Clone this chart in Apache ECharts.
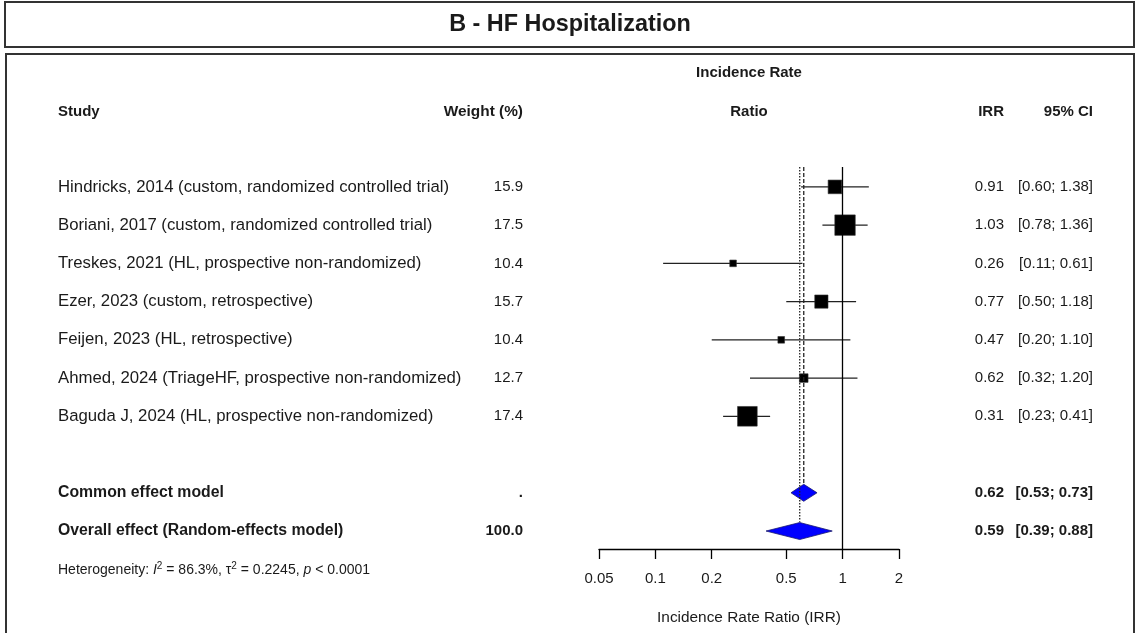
<!DOCTYPE html>
<html>
<head>
<meta charset="utf-8">
<title>B - HF Hospitalization</title>
<script src="https://cdn.jsdelivr.net/npm/echarts@6.0.0/dist/echarts.min.js"></script>
<style>
  html, body { margin: 0; padding: 0; background: #fff; }
  #main { width: 1137px; height: 633px; }
</style>
</head>
<body>
<div id="main"></div>
<script>
// study rows
const studies = [
  'Hindricks, 2014 (custom, randomized controlled trial)',
  'Boriani, 2017 (custom, randomized controlled trial)',
  'Treskes, 2021 (HL, prospective non-randomized)',
  'Ezer, 2023 (custom, retrospective)',
  'Feijen, 2023 (HL, retrospective)',
  'Ahmed, 2024 (TriageHF, prospective non-randomized)',
  'Baguda J, 2024 (HL, prospective non-randomized)'
];
const weights = ['15.9', '17.5', '10.4', '15.7', '10.4', '12.7', '17.4'];
const irr = [0.91, 1.03, 0.26, 0.77, 0.47, 0.62, 0.31];
const ciLow = [0.60, 0.78, 0.11, 0.50, 0.20, 0.32, 0.23];
const ciHigh = [1.38, 1.36, 0.61, 1.18, 1.10, 1.20, 0.41];

// pooled rows
const pooledLabels = ['Common effect model', 'Overall effect (Random-effects model)'];
const pooledWeights = ['.', '100.0'];
const pooledIrr = [0.62, 0.59];
const pooledLow = [0.53, 0.39];
const pooledHigh = [0.73, 0.88];
const pooledRows = [8, 9];

const tickValues = [0.05, 0.1, 0.2, 0.5, 1, 2];
const heterogeneity = 'Heterogeneity: {i|I}{sup|2} = 86.3%, \u03c4{sup|2} = 0.2245, {i|p} < 0.0001';

const FONT = '"Liberation Sans", Arial, sans-serif';
const TXT = '#1a1a1a';
const lg = v => Math.log10(v);

// square size ~ 1/se (inverse-variance weight), se taken from the CI width
const boxSize = (lo, hi) => 2.9 * 3.92 / (Math.log(hi) - Math.log(lo));

const studyData = studies.map((s, i) => [lg(irr[i]), lg(ciLow[i]), lg(ciHigh[i]), i, boxSize(ciLow[i], ciHigh[i])]);
const pooledData = pooledIrr.map((v, i) => [lg(v), lg(pooledLow[i]), lg(pooledHigh[i]), pooledRows[i]]);

const tableRows = [];
studies.forEach((s, i) => tableRows.push({ row: i, label: s, w: weights[i], est: irr[i], lo: ciLow[i], hi: ciHigh[i], bold: false }));
pooledLabels.forEach((s, i) => tableRows.push({ row: pooledRows[i], label: s, w: pooledWeights[i], est: pooledIrr[i], lo: pooledLow[i], hi: pooledHigh[i], bold: true }));

var chart = echarts.init(document.getElementById('main'));

function txt(x, y, text, align, bold, size) {
  return {
    type: 'text', x: x, y: y,
    style: {
      text: text, fill: TXT, font: (bold ? 'bold ' : '') + (size || 15) + 'px ' + FONT,
      align: align || 'left', verticalAlign: 'middle'
    }
  };
}

chart.setOption({
  animation: false,
  backgroundColor: '#fff',
  grid: { left: 599, right: 238, top: 167, bottom: 84 },
  xAxis: {
    type: 'value',
    position: 'bottom',
    min: lg(0.05),
    max: lg(2),
    splitLine: { show: false },
    axisLine: { onZero: false, lineStyle: { color: '#000', width: 1.3 } },
    axisTick: { show: true, length: 10, lineStyle: { color: '#000', width: 1.3 }, customValues: tickValues.map(lg) },
    axisLabel: {
      customValues: tickValues.map(lg),
      margin: 22, color: TXT, fontSize: 15, fontFamily: FONT,
      formatter: v => String(+Math.pow(10, v).toPrecision(3))
    },
    name: 'Incidence Rate Ratio (IRR)',
    nameLocation: 'middle',
    nameGap: 61,
    nameTextStyle: { color: TXT, fontSize: 15.4, fontFamily: FONT }
  },
  yAxis: { type: 'value', inverse: true, min: -0.52, max: 9.47, show: false },
  graphic: [
    { type: 'rect', shape: { x: 5, y: 2, width: 1129, height: 45 }, style: { fill: 'none', stroke: '#333', lineWidth: 2 } },
    { type: 'rect', shape: { x: 6, y: 54, width: 1128, height: 620 }, style: { fill: 'none', stroke: '#333', lineWidth: 2 } },
    txt(570, 25, 'B - HF Hospitalization', 'center', true, 23.4),
    txt(749, 73, 'Incidence Rate', 'center', true),
    txt(58, 112, 'Study', 'left', true),
    txt(523, 112, 'Weight (%)', 'right', true, 15.4),
    txt(749, 112, 'Ratio', 'center', true),
    txt(1004, 112, 'IRR', 'right', true),
    txt(1093, 112, '95% CI', 'right', true),
    {
      type: 'text', x: 58, y: 570,
      style: {
        text: heterogeneity, fill: TXT, font: '14px ' + FONT, verticalAlign: 'middle',
        rich: {
          i: { fontStyle: 'italic', fontSize: 14, fontFamily: FONT, fill: TXT },
          sup: { fontSize: 10, fontFamily: FONT, fill: TXT, verticalAlign: 'top', lineHeight: 17 }
        }
      }
    }
  ],
  series: [
    {
      // reference lines: no effect (solid), common (dashed), random (dotted)
      type: 'line',
      data: [[lg(pooledIrr[0]), -0.52], [lg(pooledIrr[0]), pooledRows[0] - 0.22]],
      symbol: 'none',
      lineStyle: { color: '#222', width: 1.3, type: [4, 2] },
      markLine: {
        silent: true, symbol: 'none', label: { show: false },
        lineStyle: { color: '#000', type: 'solid', width: 1.3 },
        data: [{ xAxis: 0 }]
      }
    },
    {
      type: 'line',
      data: [[lg(pooledIrr[1]), -0.52], [lg(pooledIrr[1]), pooledRows[1] - 0.24]],
      symbol: 'none',
      lineStyle: { color: '#222', width: 1.3, type: [1.5, 1.5] }
    },
    {
      type: 'custom',
      data: studyData,
      renderItem: function (params, api) {
        const c = api.coord([api.value(0), api.value(3)]);
        const l = api.coord([api.value(1), api.value(3)]);
        const r = api.coord([api.value(2), api.value(3)]);
        const s = api.value(4);
        return {
          type: 'group',
          children: [
            { type: 'line', shape: { x1: l[0], y1: c[1], x2: r[0], y2: c[1] }, style: { stroke: '#222', lineWidth: 1.3 } },
            { type: 'rect', shape: { x: c[0] - s / 2, y: c[1] - s / 2, width: s, height: s }, style: { fill: '#000', stroke: '#333', lineWidth: 0.6 } }
          ]
        };
      }
    },
    {
      type: 'custom',
      data: pooledData,
      renderItem: function (params, api) {
        const c = api.coord([api.value(0), api.value(3)]);
        const l = api.coord([api.value(1), api.value(3)]);
        const r = api.coord([api.value(2), api.value(3)]);
        const h = 8.5;
        return {
          type: 'polygon',
          shape: { points: [[l[0], c[1]], [c[0], c[1] - h], [r[0], c[1]], [c[0], c[1] + h]] },
          style: { fill: '#0000ff', stroke: '#1a1a6e', lineWidth: 0.8 }
        };
      }
    },
    {
      // table columns, placed on the same row scale
      type: 'custom',
      clip: false,
      data: tableRows.map(r => [0, r.row]),
      renderItem: function (params, api) {
        const t = tableRows[params.dataIndex];
        const y = api.coord([0, api.value(1)])[1];
        const b = t.bold;
        return {
          type: 'group',
          children: [
            txt(58, y, t.label, 'left', b, b ? 15.8 : 16.75),
            txt(523, y, t.w, 'right', b),
            txt(1004, y, t.est.toFixed(2), 'right', b),
            txt(1093, y, '[' + t.lo.toFixed(2) + '; ' + t.hi.toFixed(2) + ']', 'right', b)
          ]
        };
      }
    }
  ]
});
</script>
</body>
</html>
